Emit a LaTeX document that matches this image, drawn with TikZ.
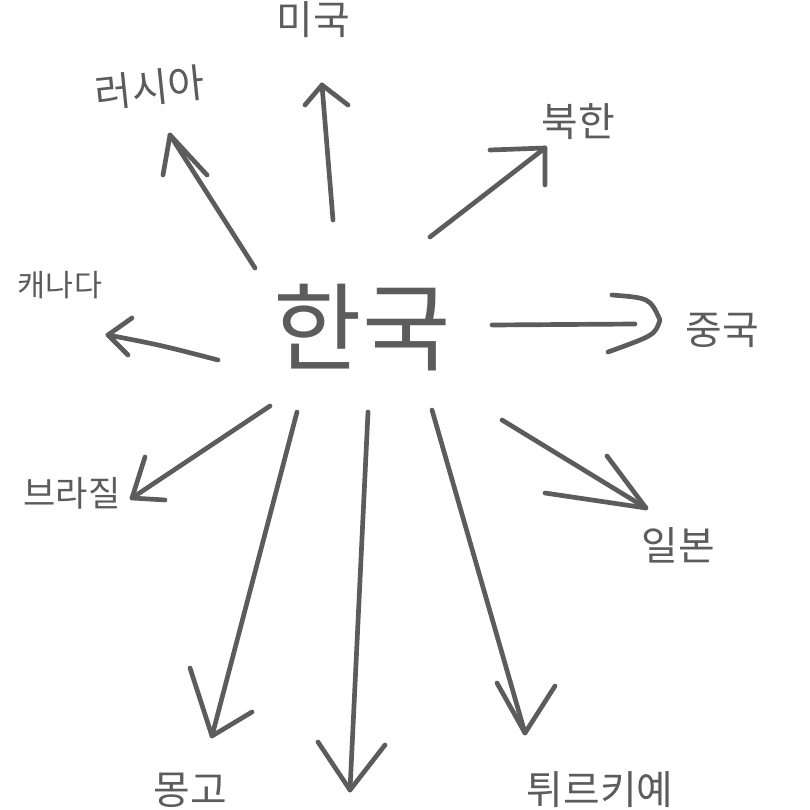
\documentclass[tikz,border=0pt]{standalone}
\usepackage{fontspec}
\newfontfamily\kr{Noto Sans CJK KR}
\begin{document}
\begin{tikzpicture}[x=0.03cm,y=-0.03cm]
\definecolor{ink}{HTML}{5C5C5C}
\tikzset{
  pen/.style={draw=ink,line width=4pt,line cap=round,line join=round},
  lbl/.style={text=ink,font=\kr\fontsize{34}{36}\selectfont,inner sep=0pt},
}
\fill[white] (0,0) rectangle (810,810);
\useasboundingbox (0,0) rectangle (810,810);
% center
\node[text=ink,font=\kr\fontsize{82}{84}\selectfont,inner sep=0pt] (hk) at (362,328) {한국};
% labels
\node[lbl] (us) at (313,20) {미국};
\node[lbl,rotate=6] (ru) at (150,88) {러시아};
\node[lbl] (nk) at (578,122) {북한};
\node[lbl,font=\kr\fontsize{26}{28}\selectfont] (ca) at (60,285) {캐나다};
\node[lbl] (cn) at (722,330) {중국};
\node[lbl,font=\kr\fontsize{30}{32}\selectfont] (br) at (72,493) {브라질};
\node[lbl] (jp) at (678,545) {일본};
\node[lbl] (mn) at (190,790) {몽고};
\node[lbl] (tr) at (600,790) {튀르키예};
% arrow points
\coordinate (usS) at (333,220); \coordinate (usT) at (322,85);
\coordinate (usA) at (305,105); \coordinate (usB) at (348,105);
\coordinate (ruS) at (255,268); \coordinate (ruT) at (170,135);
\coordinate (ruA) at (163,175); \coordinate (ruB) at (207,175);
\coordinate (nkS) at (430,237); \coordinate (nkT) at (545,148);
\coordinate (nkA) at (490,150); \coordinate (nkB) at (545,185);
\coordinate (caS) at (218,360); \coordinate (caT) at (108,335);
\coordinate (caA) at (132,318); \coordinate (caB) at (128,355);
\coordinate (cnS) at (492,325); \coordinate (cnE) at (635,324);
\coordinate (cnT) at (660,320);
\coordinate (cnA) at (612,295); \coordinate (cnB) at (608,352);
\coordinate (brS) at (270,406); \coordinate (brT) at (132,498);
\coordinate (brA) at (145,457); \coordinate (brB) at (165,500);
\coordinate (jpS) at (502,420); \coordinate (jpT) at (646,508);
\coordinate (jpA) at (607,456); \coordinate (jpB) at (545,493);
\coordinate (mnS) at (297,412); \coordinate (mnT) at (212,736);
\coordinate (mnA) at (190,668); \coordinate (mnB) at (252,712);
\coordinate (mdS) at (368,412); \coordinate (mdT) at (350,790);
\coordinate (mdA) at (318,742); \coordinate (mdB) at (385,745);
\coordinate (trS) at (432,410); \coordinate (trT) at (525,733);
\coordinate (trA) at (497,683); \coordinate (trB) at (555,686);
% shafts
\draw[pen] (usS) -- (usT);
\draw[pen] (ruS) -- (ruT);
\draw[pen] (nkS) -- (nkT);
\draw[pen] (caS) .. controls (160,345) .. (caT);
\draw[pen] (cnS) -- (cnE);
\draw[pen] (brS) -- (brT);
\draw[pen] (jpS) -- (jpT);
\draw[pen] (mnS) -- (mnT);
\draw[pen] (mdS) -- (mdT);
\draw[pen] (trS) -- (trT);
% heads
\draw[pen] (usA) -- (usT) -- (usB);
\draw[pen] (ruA) -- (ruT) -- (ruB);
\draw[pen] (nkA) -- (nkT) -- (nkB);
\draw[pen] (caA) -- (caT) -- (caB);
\draw[pen] (cnA) .. controls (650,298) .. (cnT) .. controls (655,335) .. (cnB);
\draw[pen] (brA) -- (brT) -- (brB);
\draw[pen] (jpA) -- (jpT) -- (jpB);
\draw[pen] (mnA) -- (mnT) -- (mnB);
\draw[pen] (mdA) -- (mdT) -- (mdB);
\draw[pen] (trA) -- (trT) -- (trB);
\end{tikzpicture}
\end{document}
